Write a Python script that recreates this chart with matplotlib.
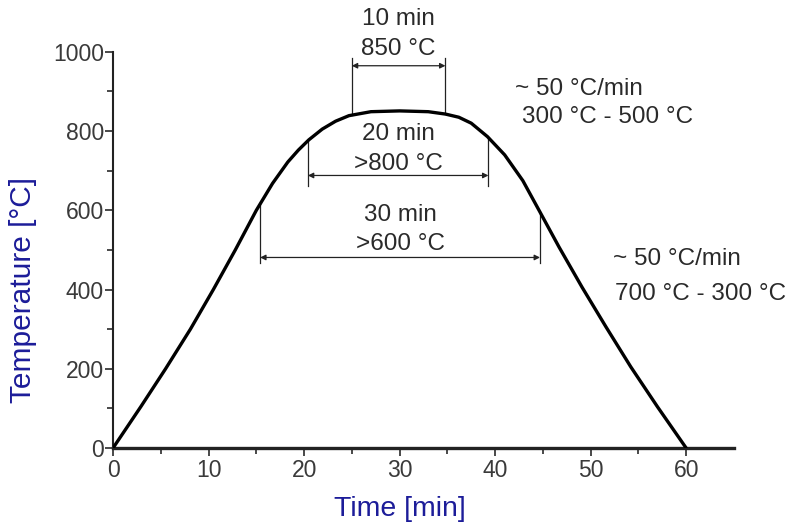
import matplotlib.pyplot as plt
import numpy as np

plt.rcParams['font.family'] = ['Liberation Sans', 'DejaVu Sans']

# Example data
time_min = [0, 2.9, 5.5, 8.1, 10.5, 12.8, 15.0, 16.7, 18.3, 19.4, 20.5, 21.9,
            23.3, 24.7, 27, 30, 33, 34.8, 36.2, 37.5, 39.2, 41.0, 42.9, 44.6,
            46.7, 49.1, 51.6, 54.2, 57.0, 60]
temp_c = [0, 104, 200, 300, 400, 500, 600, 668, 722, 752, 778, 805,
          825, 839, 849, 851, 849, 843, 835, 820, 786, 740, 675, 600,
          507, 406, 306, 205, 104, 0]

x_ticks = [0, 10, 20, 30, 40, 50, 60]
y_ticks = [0, 200, 400, 600, 800, 1000]

# dimension marks: (t_start, t_end, arrow level, line end, labels, label levels)
spans = [
    (25.0, 34.8, 965, 985, ('10 min', '850 °C'), (1083, 1008)),
    (20.4, 39.3, 688, 662, ('20 min', '>800 °C'), (793, 718)),
    (15.4, 44.7, 481, 468, ('30 min', '>600 °C'), (587, 516)),
]

rate_notes = [
    (42.1, 907, '~ 50 °C/min'),
    (42.8, 836, '300 °C - 500 °C'),
    (52.3, 478, '~ 50 °C/min'),
    (52.6, 390, '700 °C - 300 °C'),
]

label_col = '#1c1c99'
tick_col = '#3a3a3a'
note_col = '#2a2a2a'

fig = plt.figure(figsize=(7.96, 5.24), dpi=100)
ax = fig.add_axes([0.142, 0.145, 0.78, 0.756])

ax.plot(time_min, temp_c, color='black', lw=2.4, solid_joinstyle='round',
        solid_capstyle='round', zorder=3)

for t0, t1, lvl, ext, texts, text_y in spans:
    y0 = np.interp(t0, time_min, temp_c)
    y1 = np.interp(t1, time_min, temp_c)
    ax.plot([t0, t0], [y0, ext], color='#222222', lw=0.9)
    ax.plot([t1, t1], [y1, ext], color='#222222', lw=0.9)
    ax.annotate('', xy=(t1, lvl), xytext=(t0, lvl),
                arrowprops=dict(arrowstyle='<|-|>', color='#222222', lw=0.9,
                                mutation_scale=8, shrinkA=0, shrinkB=0))
    mid = (t0 + t1) / 2
    for txt, ty in zip(texts, text_y):
        ax.text(mid, ty, txt, ha='center', va='center', fontsize=17.5,
                color=note_col, clip_on=False)

for tx, ty, txt in rate_notes:
    ax.text(tx, ty, txt, ha='left', va='center', fontsize=17.5,
            color=note_col, clip_on=False)

ax.set_xlim(0, 65)
ax.set_ylim(0, 1000)
ax.set_xticks(x_ticks)
ax.set_yticks(y_ticks)
ax.set_xticks(np.arange(5, 65, 10), minor=True)
ax.set_yticks(np.arange(100, 1000, 200), minor=True)
ax.tick_params(which='both', direction='out', colors=tick_col, labelsize=16.5,
               width=1.3)
ax.tick_params(axis='y', pad=0.5)
ax.tick_params(axis='x', pad=2)
ax.tick_params(which='major', length=6)
ax.tick_params(which='minor', length=4)

for side in ('top', 'right'):
    ax.spines[side].set_visible(False)
ax.spines['left'].set_linewidth(1.5)
ax.spines['bottom'].set_linewidth(2.4)
ax.spines['left'].set_color('#222222')
ax.spines['bottom'].set_color('#222222')

ax.set_xlabel('Time [min]', fontsize=20.5, color=label_col)
ax.set_ylabel('Temperature [°C]', fontsize=21.5, color=label_col)
ax.xaxis.set_label_coords(30 / 65, -0.122)
ax.yaxis.set_label_coords(-0.122, 0.40)

fig.savefig('out.png', dpi=100)
